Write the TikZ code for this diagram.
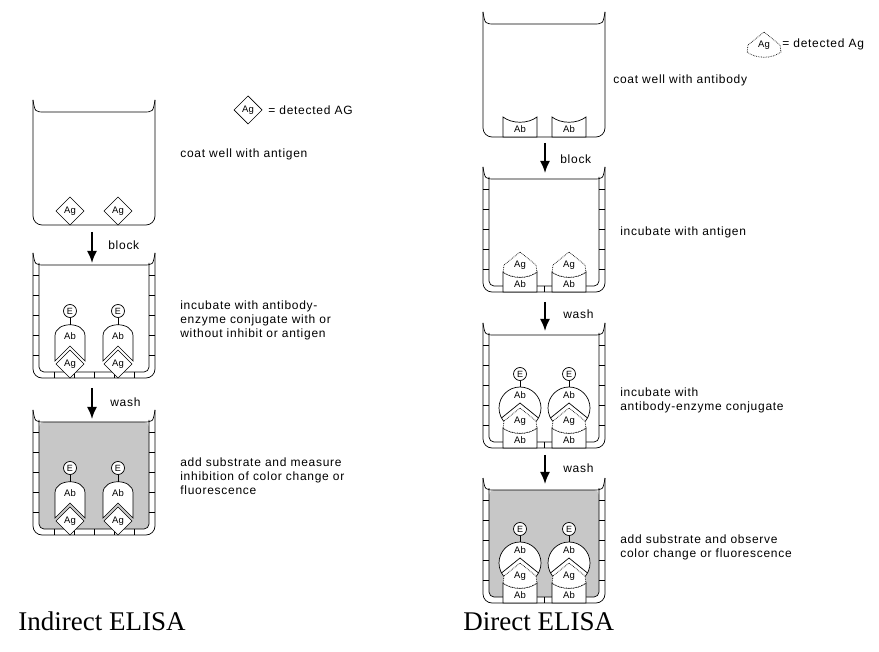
\documentclass[tikz,border=0pt]{standalone}
\usepackage{fontspec}
\setmainfont{Liberation Serif}
\newfontfamily\notefont[LetterSpace=6]{Liberation Sans}
\newfontfamily\tagfont{Liberation Sans}
\usetikzlibrary{arrows.meta}

\begin{document}
\begin{tikzpicture}[x=1pt,y=-1pt,line width=0.7pt]
\tikzset{
  bigarrow/.style={line width=1.8pt,-{Latex[length=12pt,width=10pt]}},
  note/.style={font=\notefont\fontsize{12}{14}\selectfont,anchor=west,align=left,inner sep=0pt},
  tag/.style={font=\tagfont\fontsize{9.5}{9.5}\selectfont,inner sep=0pt},
  ecirc/.style={draw,circle,fill=white,inner sep=0pt,minimum size=13pt,font=\tagfont\fontsize{9}{9}\selectfont},
  title/.style={font=\fontsize{27}{30}\selectfont,anchor=base west,inner sep=0pt},
  plainwell/.pic={
    \draw[rounded corners=9] (0,0) -- (0,125) -- (122,125) -- (122,0);
    \draw (0,0) .. controls (2,12) .. (12,12) -- (110,12) .. controls (120,12) .. (122,0);
  },
  blockwell/.pic={
    \pic {plainwell};
    \draw[rounded corners=5] (6,10) -- (6,119) -- (116,119) -- (116,10);
    \foreach \t in {22,42,...,102} {\draw (0,\t) -- (6,\t); \draw (116,\t) -- (122,\t);}
    \foreach \t in {21,41,...,101} \draw (\t,119) -- (\t,125);
  },
  substwell/.pic={
    \fill[black!22,rounded corners=5] (6,12) -- (6,119) -- (116,119) -- (116,12) -- cycle;
    \pic {blockwell};
  },
  agdiam/.pic={
    \draw[fill=white] (0,0) -- (14,-14) -- (0,-28) -- (-14,-14) -- cycle;
    \node[tag] (-t) at (0,-14) {Ag};
  },
  indab/.pic={
    \node[ecirc] (-e) at (0,-67) {E};
    \draw[fill=white] (-15,-17) -- (-15,-42) .. controls (-15,-57) and (15,-57) .. (15,-42) -- (15,-17) -- (0,-32) -- cycle;
    \node[tag] (-ab) at (0,-42) {Ab};
    \draw (-e) -- (0,-53);
  },
  abrect/.pic={
    \draw[fill=white] (-17,0) -- (-17,-20) .. controls (-8,-13) and (8,-13) .. (17,-20) -- (17,0) -- cycle;
    \node[tag] (-t) at (0,-8) {Ab};
  },
  agcone/.pic={
    \draw[fill=white,densely dotted] (-17,-20) .. controls (-8,-13) and (8,-13) .. (17,-20) -- (16,-27) -- (0,-40) -- (-16,-27) -- cycle;
    \node[tag] (-t) at (0,-27) {Ag};
  },
  abcirc/.pic={
    \node[ecirc] (-e) at (0,-74) {E};
    \draw[fill=white] (0,-40) circle (21);
    \draw (-18.5,-30) -- (0,-45) -- (18.5,-30);
    \node[tag] (-ab) at (0,-53) {Ab};
    \draw (-e) -- (0,-61);
  }
}
\useasboundingbox (0,0) rectangle (879,652);

% indirect ELISA
\pic (iw1) at (33,100) {plainwell};
\pic (ig1) at (70,225) {agdiam};
\pic (ig2) at (118,225) {agdiam};

\pic (iw2) at (33,253) {blockwell};
\pic (ia3) at (70,378) {indab};
\pic (ig3) at (70,378) {agdiam};
\pic (ia4) at (118,378) {indab};
\pic (ig4) at (118,378) {agdiam};

\pic (iw3) at (33,410) {substwell};
\pic (ia5) at (70,535) {indab};
\pic (ig5) at (70,535) {agdiam};
\pic (ia6) at (118,535) {indab};
\pic (ig6) at (118,535) {agdiam};

\pic (ikey) at (248,124) {agdiam};
\node[note] (ilegend) at (268,110) {= detected AG};

\coordinate (ia1) at (92,232);
\coordinate (ib1) at (92,263);
\coordinate (ia2) at (92,388);
\coordinate (ib2) at (92,419);
\draw[bigarrow] (ia1) -- (ib1);
\draw[bigarrow] (ia2) -- (ib2);
\node[note] (iblock) at (108,245) {block};
\node[note] (iwash) at (110,402) {wash};

\node[note] (istep1) at (180,154) {coat well with antigen};
\node[note] (istep2) at (180,320) {incubate with antibody-\\enzyme conjugate with or\\without inhibit or antigen};
\node[note] (istep3) at (180,476) {add substrate and measure\\inhibition of color change or\\fluorescence};
\node[title] (ititle) at (18,630) {Indirect ELISA};

% direct ELISA
\pic (dw1) at (483,12) {plainwell};
\pic (dr1) at (520,137) {abrect};
\pic (dr2) at (569,137) {abrect};

\pic (dw2) at (483,167) {blockwell};
\pic (dr3) at (520,292) {abrect};
\pic (dg3) at (520,292) {agcone};
\pic (dr4) at (569,292) {abrect};
\pic (dg4) at (569,292) {agcone};

\pic (dw3) at (483,323) {blockwell};
\pic (dc5) at (520,448) {abcirc};
\pic (dr5) at (520,448) {abrect};
\pic (dg5) at (520,448) {agcone};
\pic (dc6) at (569,448) {abcirc};
\pic (dr6) at (569,448) {abrect};
\pic (dg6) at (569,448) {agcone};

\pic (dw4) at (483,478) {substwell};
\pic (dc7) at (520,603) {abcirc};
\pic (dr7) at (520,603) {abrect};
\pic (dg7) at (520,603) {agcone};
\pic (dc8) at (569,603) {abcirc};
\pic (dr8) at (569,603) {abrect};
\pic (dg8) at (569,603) {agcone};

\pic (dkey) at (764,72) {agcone};
\node[note] (dlegend) at (782,44) {= detected Ag};

\coordinate (da1) at (545,143);
\coordinate (db1) at (545,173);
\coordinate (da2) at (545,302);
\coordinate (db2) at (545,331);
\coordinate (da3) at (545,455);
\coordinate (db3) at (545,484);
\draw[bigarrow] (da1) -- (db1);
\draw[bigarrow] (da2) -- (db2);
\draw[bigarrow] (da3) -- (db3);
\node[note] (dblock) at (560,159) {block};
\node[note] (dwash1) at (563,314) {wash};
\node[note] (dwash2) at (563,468) {wash};

\node[note] (dstep1) at (613,80) {coat well with antibody};
\node[note] (dstep2) at (620,232) {incubate with antigen};
\node[note] (dstep3) at (620,400) {incubate with\\antibody-enzyme conjugate};
\node[note] (dstep4) at (620,547) {add substrate and observe\\color change or fluorescence};
\node[title] (dtitle) at (463,630) {Direct ELISA};
\end{tikzpicture}
\end{document}
